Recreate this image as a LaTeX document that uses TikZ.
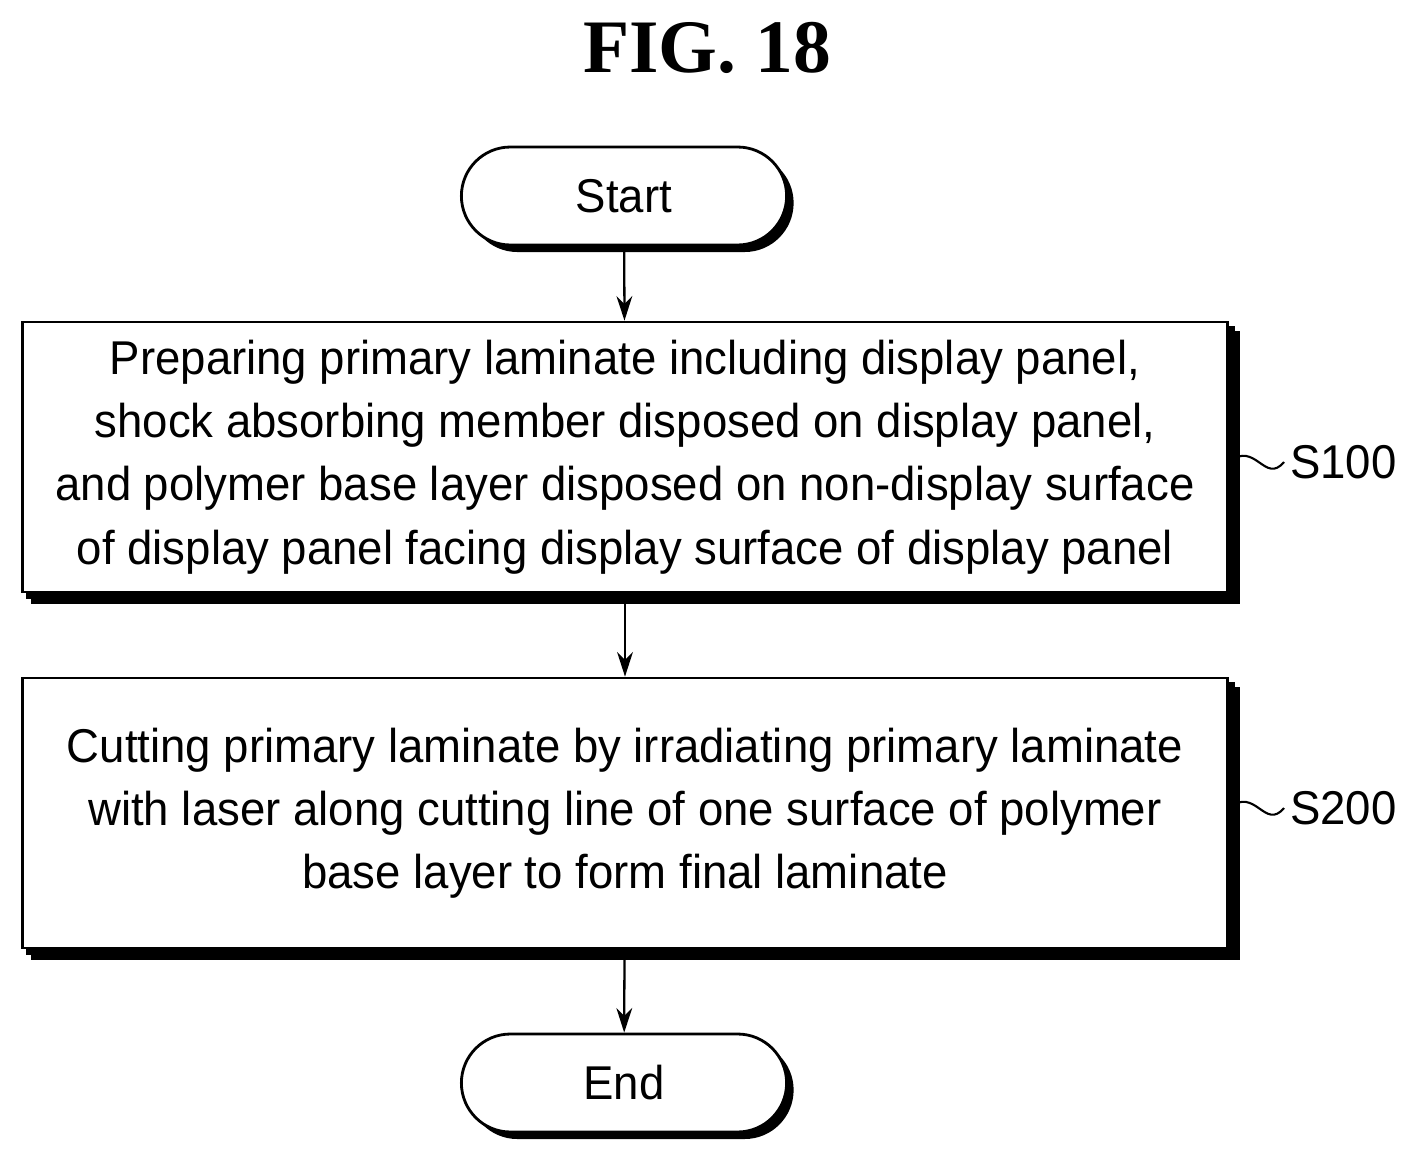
\documentclass[tikz,border=0pt]{standalone}
\usepackage{fontspec}
\setmainfont{Liberation Serif}
\newfontfamily\flowfont[FakeStretch=0.96]{Liberation Sans}
\usetikzlibrary{positioning,arrows.meta,shapes.misc}
\tikzset{
every node/.style={font=\flowfont\fontsize{27}{36}\selectfont}, % default text
flow/.style={-{Stealth[length=14pt,width=9pt]}, line width=1.3pt}, % arrows between steps
stepbox/.style={draw, line width=1.6pt, fill=white, minimum width=24.12cm, minimum height=5.4cm, align=center,
  double copy shadow={shadow xshift=3pt, shadow yshift=-3pt, draw, fill=black, line width=1.6pt}},
terminal/.style={draw, line width=1.6pt, fill=white, rounded rectangle, minimum width=6.74cm, minimum height=1.96cm,
  drop shadow={shadow xshift=4pt, shadow yshift=-4pt, fill=black, opacity=1}},
}
\usetikzlibrary{shadows}
\begin{document}
\begin{tikzpicture}[x=0.02cm, y=-0.02cm]
\useasboundingbox (0,0) rectangle (1418,1160);
       \node[font=\bfseries\fontsize{43}{46}\selectfont] (title) at (707,48) {FIG. 18};
       \node[terminal] (START) at (624,196) {Start};
       \node[stepbox] (s100) at (625,457) {Preparing primary laminate including display panel,\\
         shock absorbing member disposed on display panel,\\
         and polymer base layer disposed on non-display surface\\
         of display panel facing display surface of display panel};
       \node[stepbox] (s200) at (625,813) {Cutting primary laminate by irradiating primary laminate\\
         with laser along cutting line of one surface of polymer\\
         base layer to form final laminate};
       \node[terminal] (END) at (624,1083) {End};
       \node[anchor=west] (l100) at (1284,462) {S100};
       \node[anchor=west] (l200) at (1284,808) {S200};

     \draw[flow] (START) -- (s100);
     \draw[flow] (s100) -- (s200);
     \draw[flow] (s200) -- (END);
     % step labels
     \draw[line width=1.2pt] (s100.east |- l100) .. controls (1255,440) and (1265,485) .. (l100.west);
     \draw[line width=1.2pt] (s200.east |- l200) .. controls (1255,786) and (1265,831) .. (l200.west);
  \end{tikzpicture}
\end{document}
